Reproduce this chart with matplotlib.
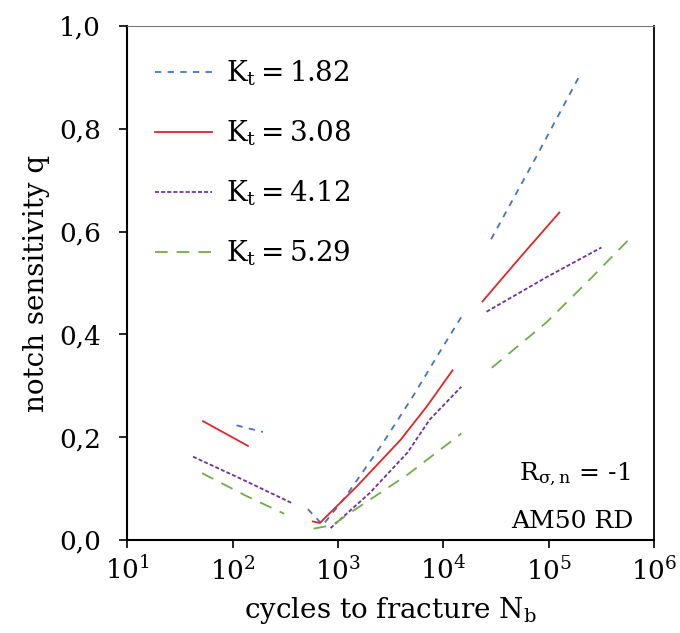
import numpy as np
import matplotlib
matplotlib.use("Agg")
from matplotlib import pyplot as plt
from matplotlib.ticker import FuncFormatter, NullLocator

plt.rcParams['font.family'] = ['DejaVu Serif']
plt.rcParams['mathtext.fontset'] = 'dejavuserif'

# values: each curve is drawn in three pieces
labels = ['1.82', '3.08', '4.12', '5.29']

kt182_n = [[109, 194],
           [518, 718, 1159, 2600, 5130, 9120, 15140],
           [28380, 75900, 201800]]
kt182_q = [[0.223, 0.210],
           [0.060, 0.029, 0.082, 0.185, 0.279, 0.364, 0.437],
           [0.585, 0.745, 0.908]]

kt308_n = [[52.5, 140],
           [577, 673, 1507, 3936, 6920, 12220],
           [23500, 54700, 126000]]
kt308_q = [[0.231, 0.183],
           [0.036, 0.033, 0.104, 0.195, 0.259, 0.330],
           [0.464, 0.552, 0.637]]

kt412_n = [[42.2, 126, 363],
           [851, 1995, 4570, 7410, 14790],
           [25700, 94800, 316000]]
kt412_q = [[0.162, 0.117, 0.072],
           [0.023, 0.091, 0.170, 0.234, 0.298],
           [0.444, 0.511, 0.569]]

kt529_n = [[51.3, 137, 309],
           [589, 891, 1288, 4570, 14790],
           [28840, 94800, 257000, 631000]]
kt529_q = [[0.130, 0.085, 0.051],
           [0.022, 0.029, 0.052, 0.127, 0.207],
           [0.335, 0.423, 0.511, 0.593]]

series = [(kt182_n, kt182_q, '#4472C4', (0, (3.5, 3.5))),
          (kt308_n, kt308_q, '#E32526', '-'),
          (kt412_n, kt412_q, '#7030A0', (0, (2.2, 1.2))),
          (kt529_n, kt529_q, '#70AD47', (0, (7, 5)))]

fig = plt.figure(figsize=(6.8, 6.33), dpi=100)
ax = fig.add_axes([0.187, 0.147, 0.775, 0.812])

for (ns, qs, col, ls), lab in zip(series, labels):
    for i, (n, q) in enumerate(zip(ns, qs)):
        ax.plot(n, q, color=col, linestyle=ls, linewidth=1.3,
                label=r'$\mathrm{K_t\,\!=\,\!' + lab + '}$' if i == 0 else None)

ax.set_xscale('log')
ax.set_xlim(10, 1e6)
ax.set_ylim(0, 1.0)
ax.set_xticks([1e1, 1e2, 1e3, 1e4, 1e5, 1e6])
ax.xaxis.set_minor_locator(NullLocator())
ax.set_xticklabels([r'$10^{%d}$' % k for k in range(1, 7)])
ax.set_yticks([0, 0.2, 0.4, 0.6, 0.8, 1.0])
ax.yaxis.set_major_formatter(FuncFormatter(lambda v, p: ('%.1f' % v).replace('.', ',')))

ax.tick_params(axis='both', direction='out', length=6, width=1.2, labelsize=19,
               top=False, right=False)
ax.tick_params(axis='x', pad=6)
ax.tick_params(axis='y', pad=13)
for s in ['left', 'bottom']:
    ax.spines[s].set_linewidth(1.5)
ax.spines['top'].set_color('#777777')
ax.spines['right'].set_linewidth(1.3)

ax.set_xlabel(r'cycles to fracture N$_\mathrm{b}$', fontsize=20, labelpad=7)
ax.set_ylabel('notch sensitivity q', fontsize=20, labelpad=6)

ax.text(0.955, 0.127, r'R$_{\mathrm{σ,n}}$ = -1', transform=ax.transAxes,
        ha='right', va='center', fontsize=18)
ax.text(0.96, 0.035, 'AM50 RD', transform=ax.transAxes,
        ha='right', va='center', fontsize=18)

ax.legend(loc='upper left', frameon=False, fontsize=20, handlelength=2.05,
          labelspacing=1.1, bbox_to_anchor=(0.005, 0.985), handletextpad=0.5)

fig.savefig('out.png', dpi=100)
